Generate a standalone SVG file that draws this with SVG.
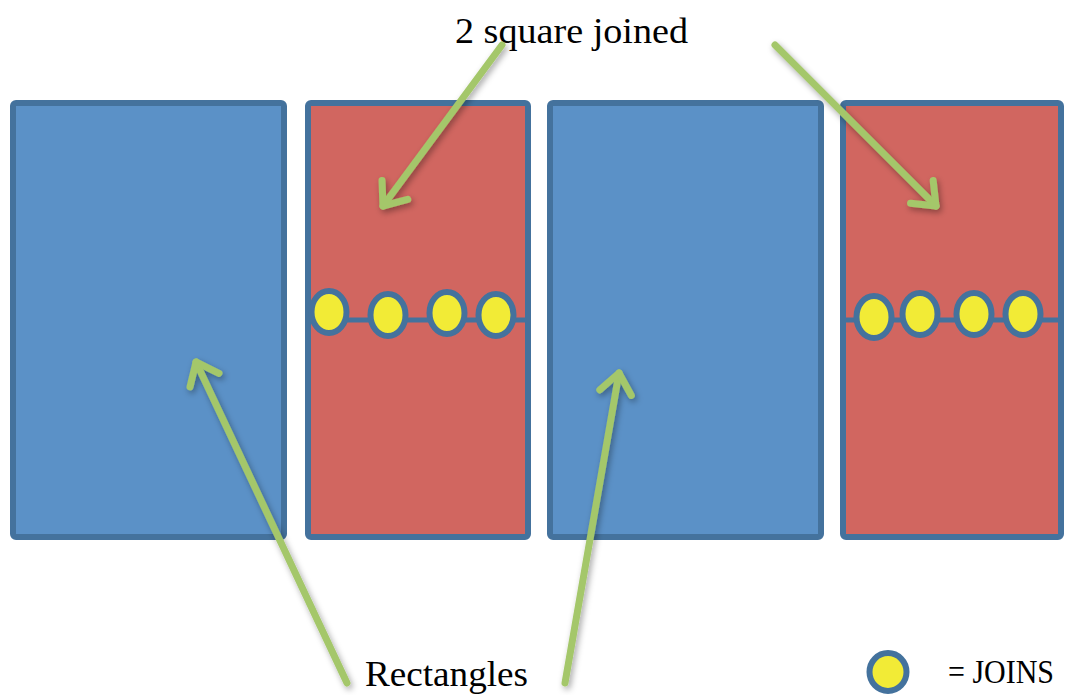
<svg xmlns="http://www.w3.org/2000/svg" width="1065" height="695" viewBox="0 0 1065 695">
<style>
.blue{fill:#5B91C7;stroke:#44729D;stroke-width:6}
.red{fill:#D16660;stroke:#44729D;stroke-width:6}
.jl{stroke:#44729D;stroke-width:5;fill:none}
.jn{fill:#F2EB36;stroke:#44729D;stroke-width:6}
.lbl{font-family:"Liberation Serif","DejaVu Serif",serif;font-size:36px;fill:#000}
.arr{stroke:#A4C76A;stroke-width:7;fill:none;stroke-linecap:round;marker-end:url(#chev)}
</style>
<defs>
<marker id="chev" markerUnits="userSpaceOnUse" viewBox="-30 -22 36 44" markerWidth="36" markerHeight="44" refX="0" refY="0" orient="auto">
<path d="M -20 -16 L 0 0 L -20 16" fill="none" stroke="#A4C76A" stroke-width="7" stroke-linecap="round" stroke-linejoin="round"/>
</marker>
<filter id="sh" x="-20%" y="-20%" width="140%" height="140%">
<feDropShadow dx="2" dy="3" stdDeviation="3" flood-color="#000" flood-opacity="0.35"/>
</filter>
</defs>
<g id="rect1"><rect class="blue" x="13" y="103" width="271" height="434" rx="3"/></g>
<g id="rect2">
<rect class="red" x="308" y="103" width="220" height="434" rx="3"/>
<line class="jl" x1="308" y1="320" x2="528" y2="320"/>
<ellipse class="jn" cx="329" cy="312" rx="17.5" ry="21"/>
<ellipse class="jn" cx="388" cy="315" rx="17.5" ry="21"/>
<ellipse class="jn" cx="447" cy="313" rx="17.5" ry="21"/>
<ellipse class="jn" cx="496" cy="315" rx="17.5" ry="21"/>
</g>
<g id="rect3"><rect class="blue" x="550" y="103" width="271" height="434" rx="3"/></g>
<g id="rect4">
<rect class="red" x="843" y="103" width="218" height="434" rx="3"/>
<line class="jl" x1="843" y1="320" x2="1061" y2="320"/>
<ellipse class="jn" cx="874" cy="317" rx="17.5" ry="21"/>
<ellipse class="jn" cx="920" cy="314" rx="17.5" ry="21"/>
<ellipse class="jn" cx="974" cy="314" rx="17.5" ry="21"/>
<ellipse class="jn" cx="1023" cy="314" rx="17.5" ry="21"/>
</g>
<g id="label-top"><text class="lbl" x="455" y="43" textLength="233" lengthAdjust="spacingAndGlyphs">2 square joined</text></g>
<g id="label-bottom"><text class="lbl" x="365" y="686" textLength="163" lengthAdjust="spacingAndGlyphs">Rectangles</text></g>
<g id="legend">
<ellipse class="jn" cx="888" cy="672" rx="18.5" ry="19"/>
<text class="lbl" x="948" y="683" font-size="34" style="font-size:34px" textLength="106" lengthAdjust="spacingAndGlyphs">= JOINS</text>
</g>
<g id="connectors" filter="url(#sh)">
<line class="arr" x1="502" y1="45" x2="383" y2="206"/>
<line class="arr" x1="775" y1="45" x2="936" y2="206"/>
<line class="arr" x1="347" y1="683" x2="196" y2="362"/>
<line class="arr" x1="565" y1="683" x2="619" y2="373"/>
</g>
</svg>
